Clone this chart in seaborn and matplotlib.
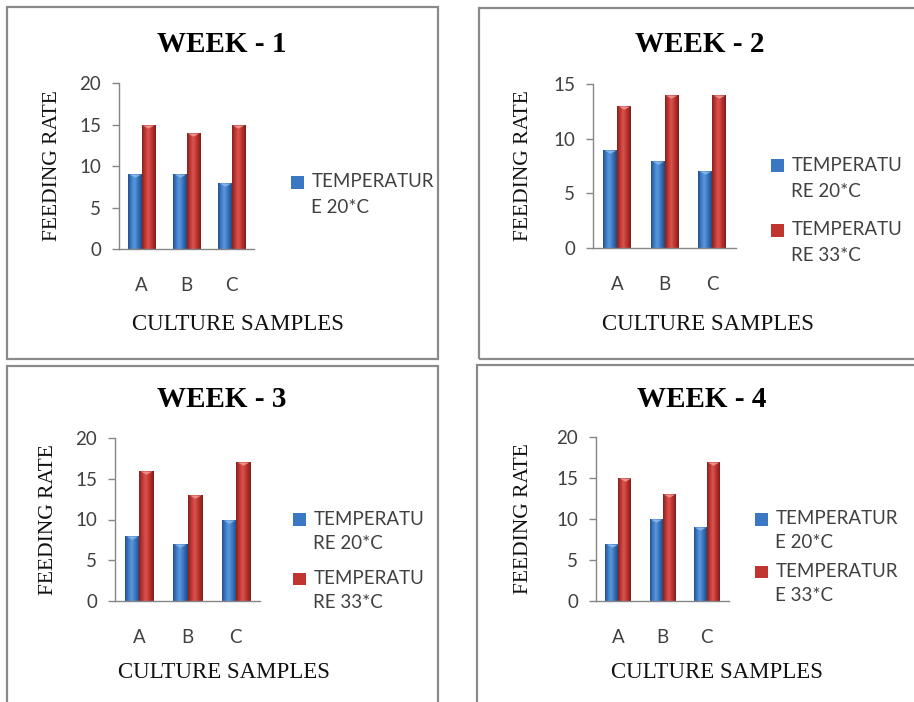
import numpy as np
import pandas as pd
import matplotlib
matplotlib.use("Agg")
import matplotlib.pyplot as plt
import seaborn as sns
from matplotlib.patches import Rectangle, Patch
from matplotlib.legend_handler import HandlerPatch
from matplotlib.colors import LinearSegmentedColormap

# ---- data -------------------------------------------------------------
samples = ["A", "B", "C"]
week_titles = ["WEEK - 1", "WEEK - 2", "WEEK - 3", "WEEK - 4"]
series = ["TEMPERATURE 20*C", "TEMPERATURE 33*C"]

week1_20 = [9, 9, 8]
week1_33 = [15, 14, 15]
week2_20 = [9, 8, 7]
week2_33 = [13, 14, 14]
week3_20 = [8, 7, 10]
week3_33 = [16, 13, 17]
week4_20 = [7, 10, 9]
week4_33 = [15, 13, 17]

y_max = [20, 15, 20, 20]
legend_labels = [
    ["TEMPERATUR\nE 20*C"],
    ["TEMPERATU\nRE 20*C", "TEMPERATU\nRE 33*C"],
    ["TEMPERATU\nRE 20*C", "TEMPERATU\nRE 33*C"],
    ["TEMPERATUR\nE 20*C", "TEMPERATUR\nE 33*C"],
]

week_values = [(week1_20, week1_33), (week2_20, week2_33),
               (week3_20, week3_33), (week4_20, week4_33)]

# ---- styling ----------------------------------------------------------
sns.set_theme(style="white")
plt.rcParams["font.family"] = ["Lato", "DejaVu Sans"]

W, H, DPI = 914, 702, 100
fig = plt.figure(figsize=(W / DPI, H / DPI), dpi=DPI)
fig.patch.set_facecolor("white")

BLUE = "#3A78C3"
RED = "#C0352F"
blue_cmap = LinearSegmentedColormap.from_list(
    "cyl_blue", [(0, "#24508A"), (0.25, "#3F7FCB"), (0.45, "#5A98DE"),
                 (0.7, "#3A76C0"), (1, "#22497F")])
red_cmap = LinearSegmentedColormap.from_list(
    "cyl_red", [(0, "#85211E"), (0.25, "#C43A34"), (0.45, "#DA5450"),
                (0.7, "#BF332E"), (1, "#7D1E1B")])
CAP_COLORS = ["#8DBAEC", "#F09A95"]

AX_GREY = "#868686"
TICK_TXT = "#404040"
SERIF = ["Liberation Serif", "DejaVu Serif"]

# flat downward wedge used as the bevel highlight on bar tops
CAP_MARKER = [(-1, 0), (1, 0), (0, -0.55), (-1, 0)]

# panel geometry in pixels: plot area (l, t, r, b), frame box, title, labels, legend
panels = [
    dict(ax=(119, 83, 254, 249), box=(7, 7, 438, 359), title=(222, 52),
         ylab=57, xlab=(238, 330), leg=(291, 194.5), lspace=0.8, lines=1.6),
    dict(ax=(593, 84, 736, 248), box=(479, 8, 930, 359), title=(700, 52),
         ylab=528, xlab=(708, 330), leg=(771, 210.5), lspace=1.15, lines=1.65),
    dict(ax=(115, 438, 260, 601), box=(7, 366, 438, 720), title=(222, 407),
         ylab=53, xlab=(224, 678), leg=(293, 561), lspace=0.95, lines=1.53),
    dict(ax=(596, 437, 729, 601), box=(477, 365, 930, 720), title=(702, 407),
         ylab=528, xlab=(717, 678), leg=(755, 557), lspace=0.62, lines=1.5),
]


class FirstLineSquare(HandlerPatch):
    """Square legend key lifted to sit beside the first line of a wrapped label."""

    def __init__(self, lift, **kw):
        super().__init__(**kw)
        self.lift = lift

    def create_artists(self, legend, orig_handle, xdescent, ydescent,
                       width, height, fontsize, trans):
        p = Rectangle((-xdescent, -ydescent + self.lift), width, height)
        self.update_prop(p, orig_handle, legend)
        p.set_transform(trans)
        return [p]


def fx(px):
    return px / W


def fy(py):
    return 1 - py / H


for i, cfg in enumerate(panels):
    # frame around each chart
    bl, bt, br, bb = cfg["box"]
    fig.patches.append(Rectangle((fx(bl), fy(bb)), fx(br) - fx(bl), fy(bt) - fy(bb),
                                 transform=fig.transFigure, fill=False,
                                 edgecolor="#8A8A8A", linewidth=1.6, zorder=0))

    l, t, r, b = cfg["ax"]
    ax = fig.add_axes([fx(l), fy(b), fx(r) - fx(l), fy(t) - fy(b)])
    v20, v33 = week_values[i]
    df = pd.DataFrame({
        "sample": samples * 2,
        "rate": list(v20) + list(v33),
        "series": [series[0]] * 3 + [series[1]] * 3,
    })
    sns.barplot(data=df, x="sample", y="rate", hue="series",
                palette=[BLUE, RED], width=0.58, saturation=1,
                legend=False, ax=ax, linewidth=0)

    # cylinder-like shading and bevelled top on each bar
    grad = np.linspace(0, 1, 64).reshape(1, -1)
    for k, patch in enumerate(list(ax.patches)):
        x0, y0 = patch.get_x(), patch.get_y()
        w, h = patch.get_width(), patch.get_height()
        if h <= 0:
            continue
        cmap = blue_cmap if k < 3 else red_cmap
        im = ax.imshow(grad, extent=[x0, x0 + w, y0, y0 + h], aspect="auto",
                       cmap=cmap, zorder=patch.get_zorder() + 0.1,
                       interpolation="bilinear")
        im.set_clip_path(patch)
        ax.plot(x0 + w / 2, y0 + h, marker=CAP_MARKER, markersize=8.5,
                color=CAP_COLORS[0 if k < 3 else 1], alpha=0.85,
                markeredgewidth=0, zorder=patch.get_zorder() + 0.2)

    ax.set_xlim(-0.5, 2.5)
    ax.set_ylim(0, y_max[i])
    ax.set_yticks(np.arange(0, y_max[i] + 1, 5))
    ax.set_facecolor("none")
    for side in ("top", "right"):
        ax.spines[side].set_visible(False)
    for side in ("left", "bottom"):
        ax.spines[side].set_color(AX_GREY)
        ax.spines[side].set_linewidth(1.0)
    ax.tick_params(axis="y", left=True, length=5, width=1, color=AX_GREY,
                   labelsize=13.5, labelcolor=TICK_TXT, pad=8)
    ax.tick_params(axis="x", bottom=False, length=0, labelsize=13.5,
                   labelcolor=TICK_TXT, pad=20)
    ax.grid(False)

    # title
    tx, ty = cfg["title"]
    ax.set_title(week_titles[i], fontfamily=SERIF, fontweight="bold",
                 fontsize=21, color="black", pad=0,
                 x=(tx - l) / (r - l), y=(b - ty) / (b - t))

    # axis labels
    ax.set_ylabel("FEEDING RATE", fontfamily=SERIF, fontsize=15.5, color="#111111")
    ax.yaxis.set_label_coords(fx(cfg["ylab"]), fy((t + b) / 2),
                              transform=fig.transFigure)
    ax.yaxis.label.set_va("baseline")
    ax.set_xlabel("CULTURE SAMPLES", fontfamily=SERIF, fontsize=16.5, color="#111111")
    xlx, xly = cfg["xlab"]
    ax.xaxis.set_label_coords(fx(xlx), fy(xly), transform=fig.transFigure)
    ax.xaxis.label.set_va("baseline")

    # legend
    labels = legend_labels[i]
    colors = [BLUE, RED][:len(labels)]
    handles = [Patch(facecolor=c, edgecolor="none") for c in colors]
    lgx, lgy = cfg["leg"]
    line_pt = cfg["lines"] * 15.7 * 0.72
    handler = FirstLineSquare(lift=line_pt / 2)
    leg = ax.legend(handles, labels, loc="center left",
                    bbox_to_anchor=(fx(lgx), fy(lgy)),
                    bbox_transform=fig.transFigure, frameon=False,
                    borderpad=0, borderaxespad=0, handlelength=0.68,
                    handleheight=0.68, handletextpad=0.4,
                    labelspacing=cfg["lspace"],
                    prop={"family": ["Lato", "DejaVu Sans"], "size": 13.5},
                    handler_map={Patch: handler})
    for txt in leg.get_texts():
        txt.set_color(TICK_TXT)
        txt.set_linespacing(cfg["lines"])

fig.savefig("out.png", dpi=DPI, facecolor="white")
